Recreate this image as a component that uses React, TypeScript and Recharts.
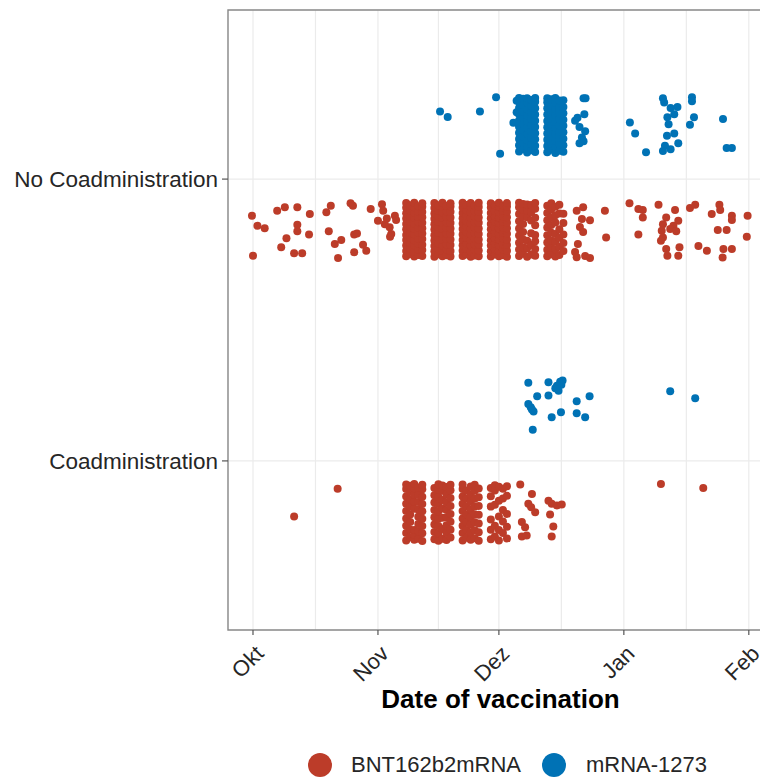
import React from 'react';
import { ScatterChart, Scatter, XAxis, YAxis, CartesianGrid, ReferenceArea } from 'recharts';

// ---- categories / legend / ticks ----
const CATEGORY_LABELS = ['Coadministration', 'No Coadministration'];
const CATEGORY_POS = [1, 2];
const VACCINES = ['BNT162b2mRNA', 'mRNA-1273'];
const COLORS = ['#BC3C29', '#0072B5'];
// days counted from 1 Oct 2021
const MONTH_DAYS = [0, 31, 61, 92, 123];
const MONTH_LABELS = ['Okt', 'Nov', 'Dez', 'Jan', 'Feb'];
const MINOR_DAYS = [15.5, 46, 76.5, 107.5];
const X_DOMAIN = [-6.2, 129];
const Y_DOMAIN = [0.4, 2.6];
// dodge of the two vaccines inside a category
const DODGE = [-0.18, 0.19];

// ---- No Coadministration, BNT162b2mRNA: [day, jitter offsets in 1/100 unit] ----
const noCoadBntDaily = [
  [38, [-9.4, -7.5, -5.6, -3.6, -1.8, 0.2, 2.1, 4, 5.9, 7.8, 9.5]],
  [39, [-8.6, -6.6, -4.7, -2.8, -0.9, 1, 2.9, 4.8, 6.8, 8.7]],
  [40, [-9.5, -7.7, -5.5, -3.7, -1.6, 0.4, 2.2, 4.2, 6, 8, 9.6]],
  [41, [-8.9, -7, -5, -3.1, -1.1, 0.8, 2.7, 4.6, 6.5, 8.4]],
  [42, [-9.3, -7.2, -5.3, -3.3, -1.3, 0.6, 2.5, 4.5, 6.3, 8.2, 9.4]],
  [45, [-9.6, -7.6, -5.7, -3.8, -1.9, 0.1, 2, 3.9, 5.8, 7.7, 9.5]],
  [46, [-8.7, -6.8, -4.8, -2.9, -1, 1, 2.9, 4.9, 6.8, 8.7]],
  [47, [-9.4, -7.4, -5.5, -3.5, -1.5, 0.4, 2.4, 4.3, 6.2, 8.1, 9.6]],
  [48, [-9, -7, -5.1, -3.2, -1.2, 0.7, 2.6, 4.6, 6.5, 8.5]],
  [49, [-9.5, -7.5, -5.4, -3.4, -1.4, 0.5, 2.4, 4.4, 6.4, 8.3, 9.4]],
  [52, [-9.3, -7.4, -5.5, -3.6, -1.7, 0.3, 2.2, 4.1, 6, 7.9, 9.6]],
  [53, [-8.8, -6.8, -4.9, -2.9, -0.9, 1.1, 3, 5, 6.9, 8.8]],
  [54, [-9.6, -7.6, -5.6, -3.6, -1.6, 0.4, 2.3, 4.3, 6.2, 8.2, 9.5]],
  [55, [-9.1, -7.1, -5.2, -3.2, -1.2, 0.8, 2.7, 4.7, 6.6, 8.6]],
  [56, [-9.4, -7.3, -5.3, -3.4, -1.5, 0.5, 2.5, 4.4, 6.3, 8.1, 9.6]],
  [59, [-9.5, -7.6, -5.6, -3.7, -1.8, 0.2, 2.1, 4.1, 6, 7.9, 9.4]],
  [60, [-8.8, -6.9, -4.9, -3, -1, 1, 2.9, 4.8, 6.7, 8.7]],
  [61, [-9.4, -7.5, -5.5, -3.5, -1.5, 0.5, 2.4, 4.3, 6.3, 8.2, 9.6]],
  [62, [-9, -7.1, -5.1, -3.1, -1.1, 0.8, 2.8, 4.7, 6.7, 8.6]],
  [63, [-9.6, -7.4, -5.4, -3.4, -1.4, 0.6, 2.5, 4.5, 6.4, 8.3, 9.5]],
  [66, [-9.3, -7, -4.6, -2, 0.5, 3, 5.6, 8, 9.6]],
  [67, [-8.5, -6.2, -3.4, -0.8, 2.1, 4.7, 7.2, 9.2]],
  [68, [-9.6, -6.5, -3.9, 4.5, 6.9, 9]],
  [69, [-8.8, -5.4, -1.2, 3.3, 6.2, 8.8]],
  [70, [-9.2, -6.8, -4.1, -1.8, 1.6, 4.3, 7.5, 9.5]],
  [73, [-9.4, -7.1, -4.5, -1.9, 0.8, 3.4, 6, 8.5]],
  [74, [-8.7, -6.3, -3.8, -1, 1.7, 4.5, 7.3, 9.4]],
  [75, [-9.5, -6.9, -4.2, -1.5, 2.6, 5.2, 8.2]],
  [76, [-8.9, -6, -2.8, 0.2, 5.8, 8.9]],
  [77, [-7.5, -4.7, -1.7, 2.4, 5.7]],
];
const noCoadBntSingles = [
  [-0.25, 5], [0, -9.2], [1.1, 1.4], [2.9, 0.6], [6, 6.8], [7.9, 8], [11, 8], [14.1, 5.6], [11, 1.8], [11, -0.5],
  [13.9, -1.7], [8.3, -3], [7, -6.2], [10.2, -8.3], [12.2, -8.3], [18.2, 6.2], [19.3, 8.5], [18.8, -0.5], [20.3, -5],
  [21.9, -3.6], [21.1, -10], [24.2, 9.4], [24.8, 8.5], [25.1, -1.7], [25.8, -1.3], [27.3, -5.3], [28.1, -7.4], [25.1, -8],
  [29.2, 7.4], [32, 9.1], [32.3, 6.8], [31, 3.2], [32.7, 2], [33.9, 0.9], [34.3, -1.5], [35.2, 5], [33.2, 4], [35.5, 3.5], [34, -2.5],
  [80.3, 6.8], [81.9, 8], [81.6, 3.8], [81.1, 1], [81.9, -0.8], [80.6, -5], [79.9, -7.9], [82.4, -9.3], [80.3, -9.7], [83.6, 3.4], [83.6, -10],
  [87.3, 6.8], [87.6, -2.7],
  [93.4, 9.4], [95.6, 7.4], [96.7, 7], [96.7, 4.4], [95.6, -1.7], [100.6, 8.9], [102.5, 4.4], [101.7, 2], [104.7, 7], [105.5, 3.2],
  [104.3, 1.4], [101.4, -0.3], [103.5, 0.3], [105, -0.5], [101.7, -2.7], [101.2, -3.9], [102.5, -6.8], [102.8, -9.2], [105.8, -6.2], [105.5, -9.2],
  [108.4, 7.7], [109.7, 8.9], [110.5, -5.7], [112.6, -7.4], [113.8, 5.6], [115.7, 8.9], [115.9, 7], [118.8, 5], [118.8, 3.5], [115.3, -0.1],
  [117.5, -0.1], [116.7, -6.8], [118.8, -6.8], [116.5, -9.8], [122.7, 5], [122.5, -2.5],
];

// ---- No Coadministration, mRNA-1273 ----
const noCoadMrnaDaily = [
  [66, [-9.2, -7, -4.8, -2.6, -0.4, 1.8, 4, 6.2, 8.4, 9.8]],
  [67, [-8.4, -6.1, -3.9, -1.7, 0.6, 2.8, 5, 7.3, 9.5]],
  [68, [-9.6, -7.4, -5.2, -3, -0.8, 1.4, 3.6, 5.8, 8, 9.7]],
  [69, [-8.8, -6.6, -4.3, -2.1, 0.1, 2.4, 4.6, 6.9, 9.1]],
  [70, [-9.4, -7.2, -4.9, -2.7, -0.5, 1.7, 3.9, 6.1, 8.4, 9.8]],
  [73, [-9.5, -7.3, -5, -2.8, -0.6, 1.6, 3.9, 6.1, 8.3, 9.7]],
  [74, [-8.6, -6.4, -4.1, -1.9, 0.3, 2.5, 4.8, 7, 9.3]],
  [75, [-9.7, -7.5, -5.3, -3, -0.8, 1.4, 3.7, 5.9, 8.2, 9.8]],
  [76, [-8.9, -6.6, -4.4, -2.2, 0, 2.2, 4.4, 6.7, 8.9]],
  [77, [-9.3, -7, -4.7, -2.4, -0.1, 2.1, 4.4, 6.6, 9]],
];
const noCoadMrnaSingles = [
  [46.4, 5], [48.3, 3], [56.3, 5], [60.3, 10], [61.3, -10], [64.6, 1], [65.4, 8.8], [65.4, 4.7],
  [79.9, 1.7], [81, -0.5], [82, 9.7], [82.5, 9.7], [82.2, 4], [81.6, -4.2], [82, -5.6], [81, -6.3], [80.5, 2.8], [82.4, -2],
  [93.5, 1.1], [94.8, -2.8], [97.5, -9.5], [101.7, 9.7], [102, 8.2], [103.6, 6.2], [105.3, 6.6], [104.5, 4], [102.8, 2.9],
  [103.1, 0.5], [102.7, -3.6], [104.5, -2.8], [102.2, -7.2], [103.6, -8.4], [101.7, -9], [105.5, -6.3], [108.9, 10], [108.9, 8.6],
  [109.4, 2.9], [108.4, 0.3], [116.6, 2.3], [117.5, -8], [118.8, -8],
];

// ---- Coadministration, BNT162b2mRNA ----
const coadBntDaily = [
  [38, [-10.2, -7.6, -5, -2.4, 0.2, 2.8, 5.4, 8, 9.6]],
  [39, [-9.1, -6.4, -3.7, -1, 1.7, 4.4, 7.1, 9.2]],
  [40, [-10, -8.2, -6.5, 1, 3.5, 6, 8.3, 9.8]],
  [41, [-9.6, -7, -4.4, -1.8, 0.8, 3.4, 6, 8.6]],
  [42, [-10.4, -7.7, -5.1, -2.5, 0.1, 2.7, 5.3, 7.9, 9.5]],
  [45, [-9.8, -7.2, -4.6, -2, 0.6, 3.2, 5.8, 8.4]],
  [46, [-10.3, -7.7, -5.1, -2.5, 0.1, 2.7, 5.3, 7.9, 9.7]],
  [47, [-9.6, -6.2, -2.2, 1.1, 4.1, 7.4, 9.3]],
  [48, [-10.1, -7.4, -4.8, -2.1, 0.6, 3.3, 6, 8.7]],
  [49, [-9.2, -6.4, -3.6, -0.8, 2, 4.8, 7.6, 9.5]],
  [52, [-10.2, -7.6, -5, -2.4, 0.2, 2.8, 5.4, 8, 9.6]],
  [53, [-9.3, -6.5, -3.7, -0.9, 1.9, 4.7, 7.5]],
  [54, [-10, -7.3, -4.6, -1.9, 0.8, 3.5, 6.2, 8.9]],
  [55, [-9.4, -6.6, -3.8, -1, 1.8, 4.6, 7.4, 9.5]],
  [56, [-10.3, -7.3, -4.2, -1.1, 2, 5.1, 8.2]],
  [59, [-9.8, -6.4, -2.8, 1.8, 5.5, 8.4]],
  [60, [-8.8, -5, 2.4, 7.5, 9.4]],
  [61, [-10.2, -6.5, -1.7, 3.9, 8.8]],
  [62, [-7.6, -3.5, 0.6, 4.7, 8.1]],
  [63, [-9.5, -5.4, -0.8, 5.6, 9]],
];
const coadBntSingles = [
  [10.2, -1.7], [21, 8.1], [66.3, 9.6], [69.2, 6.3], [68.3, 2.8], [69, 1.6], [70, -0.2], [66.7, -3.7], [67.5, -5.5],
  [66.7, -8.8], [67.9, -8.5], [73.3, 3.9], [74.1, 2.8], [75.4, 2.2], [76.6, 2.5], [73.7, -1], [74.5, -5.3], [74.1, -8.8],
  [101.2, 9.8], [111.7, 8.4],
];

// ---- Coadministration, mRNA-1273 ----
const coadMrnaSingles = [
  [68.3, 8.7], [73.3, 8.9], [76.2, 9.1], [76.8, 9.5], [75.4, 7.7], [75.8, 5.9], [75, 6.8], [76.5, 8], [70.5, 3.9], [73.3, 4.2],
  [68.3, 1.2], [68.9, 0], [69.6, -1.5], [69.2, -0.8], [69.4, -7.9], [74.1, -3.5], [76.4, -1.7], [80.3, 2.2], [83.5, 3.9],
  [80.3, -2.1], [82.4, -3.5], [103.5, 5.7], [109.7, 3.2],
];

function buildPoints(daily: any[], singles: any[], cat: number, shift: number) {
  const pts: { x: number; y: number }[] = [];
  for (const [d, offs] of daily) for (const o of offs) pts.push({ x: d, y: cat + shift + o / 100 });
  for (const [d, o] of singles) pts.push({ x: d, y: cat + shift + o / 100 });
  return pts;
}

const seriesBnt = [
  ...buildPoints(noCoadBntDaily, noCoadBntSingles, CATEGORY_POS[1], DODGE[0]),
  ...buildPoints(coadBntDaily, coadBntSingles, CATEGORY_POS[0], DODGE[0]),
];
const seriesMrna = [
  ...buildPoints(noCoadMrnaDaily, noCoadMrnaSingles, CATEGORY_POS[1], DODGE[1]),
  ...buildPoints([], coadMrnaSingles, CATEGORY_POS[0], DODGE[1]),
];

const FONT = '"Liberation Sans", Arial, Helvetica, sans-serif';
const TEXT_COLOR = '#262626';
const TICK_COLOR = '#555555';

const XTick = (props: any) => {
  const { x, y, payload } = props;
  const idx = MONTH_DAYS.indexOf(payload.value);
  if (idx < 0) return <g />;
  const ax = x + 12;
  const ay = y + 25;
  return (
    <g>
      <line x1={x} y1={y} x2={x} y2={y + 5} stroke={TICK_COLOR} strokeWidth={1.2} />
      <text x={ax} y={ay} textAnchor="end" transform={`rotate(-45, ${ax}, ${ay})`} fontSize={22} fill={TEXT_COLOR} fontFamily={FONT}>
        {MONTH_LABELS[idx]}
      </text>
    </g>
  );
};

const YTick = (props: any) => {
  const { x, y, payload } = props;
  const idx = CATEGORY_POS.indexOf(payload.value);
  if (idx < 0) return <g />;
  return (
    <g>
      <line x1={x - 6} y1={y} x2={x} y2={y} stroke={TICK_COLOR} strokeWidth={1.2} />
      <text x={x - 10} y={y + 8} textAnchor="end" fontSize={22.5} fill={TEXT_COLOR} fontFamily={FONT}>
        {CATEGORY_LABELS[idx]}
      </text>
    </g>
  );
};

const XTitle = (props: any) => {
  const vb = props.viewBox || {};
  const cx = (vb.x || 0) + (vb.width || 0) / 2;
  const cy = (vb.y || 0) + 78;
  return (
    <text x={cx} y={cy} textAnchor="middle" fontSize={26} fontWeight="bold" fill="#000" fontFamily={FONT}>
      Date of vaccination
    </text>
  );
};

const dot = (color: string) => (p: any) => <circle cx={p.cx} cy={p.cy} r={4} fill={color} />;

export default function App() {
  return (
    <div style={{ position: 'absolute', left: 0, top: 0, width: 760, height: 779, overflow: 'hidden', background: '#fff' }}>
      <ScatterChart width={790} height={779} margin={{ top: 10, right: 17, bottom: 59, left: 0 }}>
        <CartesianGrid stroke="#EBEBEB" strokeWidth={1.2} />
        <XAxis
          type="number"
          dataKey="x"
          domain={X_DOMAIN}
          ticks={[...MONTH_DAYS, ...MINOR_DAYS].sort((a, b) => a - b)}
          interval={0}
          allowDataOverflow
          axisLine={false}
          tickLine={false}
          tickSize={0}
          tickMargin={0}
          height={90}
          tick={<XTick />}
          label={<XTitle />}
        />
        <YAxis
          type="number"
          dataKey="y"
          domain={Y_DOMAIN}
          ticks={CATEGORY_POS}
          interval={0}
          allowDataOverflow
          axisLine={false}
          tickLine={false}
          tickSize={0}
          tickMargin={0}
          width={228}
          tick={<YTick />}
        />
        <ReferenceArea x1={X_DOMAIN[0]} x2={X_DOMAIN[1]} y1={Y_DOMAIN[0]} y2={Y_DOMAIN[1]} fill="none" stroke="#8a8a8a" strokeWidth={1.4} />
        <Scatter name={VACCINES[0]} data={seriesBnt} fill={COLORS[0]} shape={dot(COLORS[0])} isAnimationActive={false} />
        <Scatter name={VACCINES[1]} data={seriesMrna} fill={COLORS[1]} shape={dot(COLORS[1])} isAnimationActive={false} />
      </ScatterChart>
      <div style={{ position: 'absolute', top: 752, left: 308, height: 25, display: 'flex', alignItems: 'center', fontFamily: FONT, fontSize: 22, color: TEXT_COLOR }}>
        <span style={{ width: 24, height: 24, borderRadius: 12, background: COLORS[0], display: 'inline-block' }} />
        <span style={{ marginLeft: 19 }}>{VACCINES[0]}</span>
        <span style={{ width: 24, height: 24, borderRadius: 12, background: COLORS[1], display: 'inline-block', marginLeft: 21 }} />
        <span style={{ marginLeft: 20 }}>{VACCINES[1]}</span>
      </div>
    </div>
  );
}
